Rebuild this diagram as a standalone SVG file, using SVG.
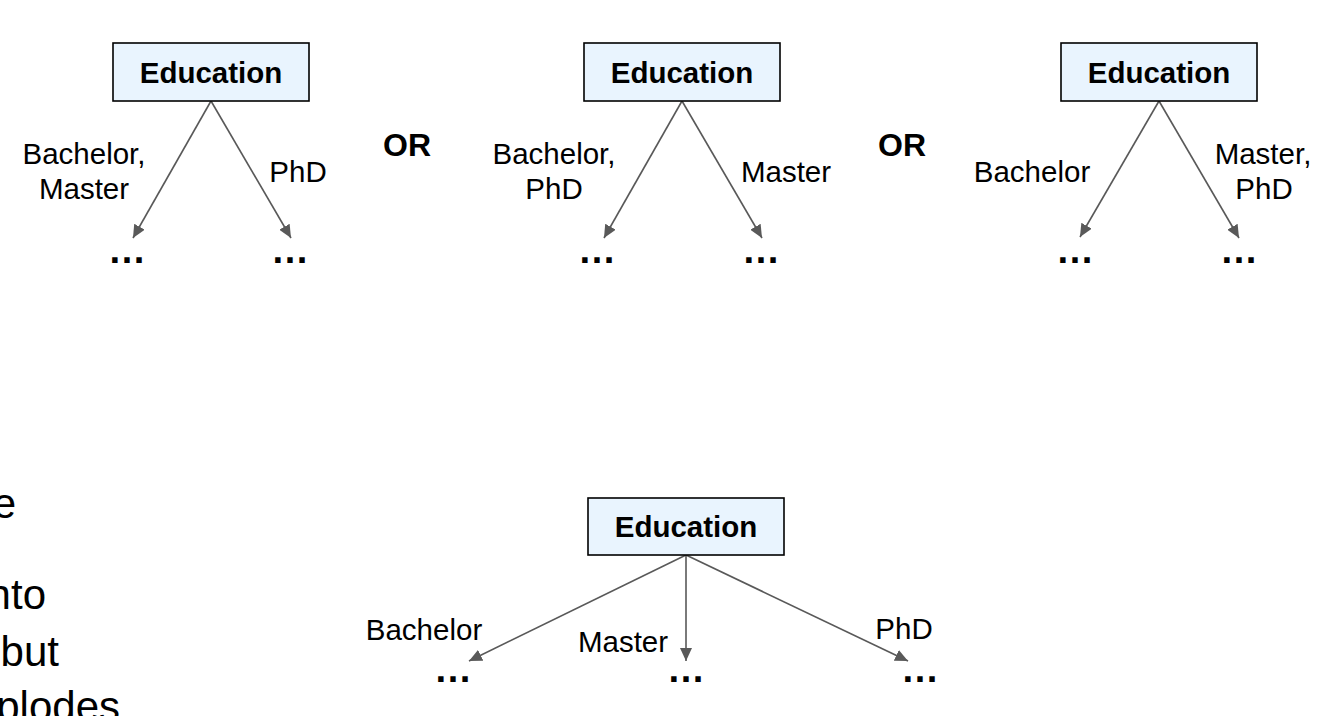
<svg xmlns="http://www.w3.org/2000/svg" width="1344" height="716" viewBox="0 0 1344 716">
<defs>
<marker id="ah" markerUnits="userSpaceOnUse" markerWidth="14" markerHeight="12" refX="13" refY="6" orient="auto">
<path d="M0,0 L13,6 L0,12 Z" fill="#595959"/>
</marker>
<style>
text{font-family:"Liberation Sans",Arial,sans-serif;fill:#000}
.box{fill:#e9f4fe;stroke:#000;stroke-width:1.6}
.t{font-size:29.5px;font-weight:bold;text-anchor:middle}
.l{font-size:29.5px;text-anchor:middle}
.d{font-size:38px;font-weight:bold;text-anchor:middle}
.or{font-size:32px;font-weight:bold;text-anchor:middle}
.side{font-size:42px;text-anchor:end}
.c{stroke:#595959;stroke-width:1.6;fill:none;marker-end:url(#ah)}
</style>
</defs>
<rect width="1344" height="716" fill="#fff"/>
<g id="connectors">
<line class="c" x1="211" y1="101" x2="133" y2="238"/>
<line class="c" x1="211" y1="101" x2="291" y2="238"/>
<line class="c" x1="682" y1="101" x2="604" y2="238"/>
<line class="c" x1="682" y1="101" x2="762" y2="238"/>
<line class="c" x1="1159" y1="101" x2="1080" y2="237"/>
<line class="c" x1="1159" y1="101" x2="1239" y2="238"/>
<line class="c" x1="686" y1="555" x2="469" y2="661"/>
<line class="c" x1="686" y1="555" x2="686" y2="661"/>
<line class="c" x1="686" y1="555" x2="908" y2="661"/>
</g>
<g id="node1">
<rect class="box" x="113" y="43" width="196" height="58"/>
<text class="t" x="211" y="83">Education</text>
</g>
<g id="node2">
<rect class="box" x="584" y="43" width="196" height="58"/>
<text class="t" x="682" y="83">Education</text>
</g>
<g id="node3">
<rect class="box" x="1061" y="43" width="196" height="58"/>
<text class="t" x="1159" y="83">Education</text>
</g>
<g id="node4">
<rect class="box" x="588" y="498" width="196" height="57"/>
<text class="t" x="686" y="537">Education</text>
</g>
<g id="labels">
<text class="l" x="84" y="164">Bachelor,</text>
<text class="l" x="84" y="199">Master</text>
<text class="l" x="298" y="182">PhD</text>
<text class="l" x="554" y="164">Bachelor,</text>
<text class="l" x="554" y="199">PhD</text>
<text class="l" x="786" y="182">Master</text>
<text class="l" x="1032" y="182">Bachelor</text>
<text class="l" x="1263" y="164">Master,</text>
<text class="l" x="1264" y="199">PhD</text>
<text class="l" x="424" y="640">Bachelor</text>
<text class="l" x="623" y="652">Master</text>
<text class="l" x="904" y="639">PhD</text>
<text class="or" x="407" y="156">OR</text>
<text class="or" x="902" y="156">OR</text>
</g>
<g id="ellipses">
<text class="d" x="127" y="263">…</text>
<text class="d" x="290" y="263">…</text>
<text class="d" x="597" y="263">…</text>
<text class="d" x="761" y="263">…</text>
<text class="d" x="1075" y="263">…</text>
<text class="d" x="1239" y="263">…</text>
<text class="d" x="453" y="682">…</text>
<text class="d" x="686" y="682">…</text>
<text class="d" x="920" y="682">…</text>
</g>
<g id="sidetext">
<text class="side" x="16" y="518">e</text>
<text class="side" x="46" y="609">nto</text>
<text class="side" x="59" y="666">but</text>
<text class="side" x="120" y="721">plodes</text>
</g>
</svg>
